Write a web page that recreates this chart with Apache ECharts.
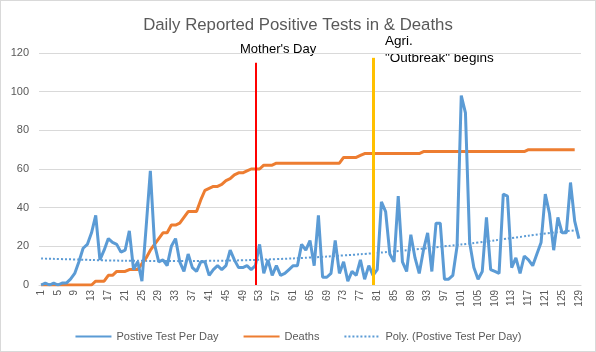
<!DOCTYPE html>
<html>
<head>
<meta charset="utf-8">
<script src="https://cdn.jsdelivr.net/npm/echarts@6/dist/echarts.min.js"></script>
<style>
  html, body { margin: 0; padding: 0; background: #fff; }
  #chart { width: 596px; height: 352px; box-sizing: border-box; border: 1px solid #d9d9d9; }
</style>
</head>
<body>
<div id="chart"></div>
<script>
// day numbers on the category axis
const days = Array.from({ length: 129 }, (_, i) => String(i + 1));

const positives = [
  0, 1, 0, 1, 0, 1, 1, 3, 6, 12, 19, 21, 27, 36, 13, 18, 24, 22, 21, 17,
  18, 28, 8, 12, 2, 30, 59, 21, 12, 13, 10, 20, 24, 12, 7, 16, 9, 7, 12, 12,
  5, 8, 10, 8, 10, 18, 13, 9, 9, 10, 8, 10, 21, 6, 13, 5, 10, 5, 6, 8,
  10, 10, 21, 18, 23, 10, 36, 4, 4, 6, 23, 6, 12, 2, 7, 5, 13, 3, 10, 5,
  8, 43, 38, 16, 12, 46, 12, 7, 26, 14, 6, 18, 27, 7, 32, 32, 3, 3, 5, 20,
  98, 89, 22, 9, 3, 7, 35, 8, 7, 6, 47, 46, 9, 14, 6, 15, 13, 10, 16, 22,
  47, 37, 18, 35, 27, 27, 53, 33, 24
];

const deaths = [
  0, 0, 0, 0, 0, 0, 0, 0, 0, 0, 0, 0, 0, 2, 2, 2, 5, 5, 7, 7,
  7, 8, 8, 8, 11, 14, 18, 21, 24, 27, 27, 31, 31, 32, 35, 38, 38, 38, 44, 49,
  50, 51, 51, 52, 54, 55, 57, 58, 58, 59, 60, 60, 60, 62, 62, 62, 63, 63, 63, 63,
  63, 63, 63, 63, 63, 63, 63, 63, 63, 63, 63, 63, 66, 66, 66, 66, 67, 68, 68, 68,
  68, 68, 68, 68, 68, 68, 68, 68, 68, 68, 68, 69, 69, 69, 69, 69, 69, 69, 69, 69,
  69, 69, 69, 69, 69, 69, 69, 69, 69, 69, 69, 69, 69, 69, 69, 69, 70, 70, 70, 70,
  70, 70, 70, 70, 70, 70, 70, 70
];

// polynomial trendline at a few days
const trendDays = [1, 9, 17, 25, 33, 41, 49, 57, 65, 73, 81, 89, 97, 105, 113, 121, 129];
const trendValues = [13.7, 13.2, 12.7, 12.5, 12.4, 12.5, 12.8, 13.4, 14.2, 15.3, 16.6, 18.2, 20.0, 22.0, 24.3, 26.6, 28.5];

const yTicks = { min: 0, max: 120, interval: 20 };

const markers = [
  { day: "52", top: 115, color: "#ff0000", width: 2 },
  { day: "80", top: 117.5, color: "#ffc000", width: 3 }
];

const trend = days.map(() => null);
trendDays.forEach((d, i) => { trend[d - 1] = trendValues[i]; });

const font = "'Liberation Sans', Arial, sans-serif";
const grey = "#595959";

const chart = echarts.init(document.getElementById("chart"), null, { renderer: "canvas" });

chart.setOption({
  animation: false,
  title: {
    text: "Daily Reported Positive Tests in & Deaths",
    left: "center",
    top: 11,
    textStyle: { color: grey, fontFamily: font, fontSize: 16.8, fontWeight: "normal" }
  },
  legend: {
    bottom: 4,
    left: "center",
    itemWidth: 36,
    itemHeight: 10,
    itemGap: 24,
    itemStyle: { color: "transparent", borderColor: "transparent", borderWidth: 0, opacity: 0 },
    textStyle: { color: grey, fontFamily: font, fontSize: 11 },
    data: ["Postive Test Per Day", "Deaths", "Poly. (Postive Test Per Day)"]
  },
  grid: { left: 38, right: 14, top: 52, bottom: 66 },
  xAxis: {
    type: "category",
    data: days,
    boundaryGap: true,
    axisLine: { lineStyle: { color: "#d9d9d9" } },
    axisTick: { show: false },
    axisLabel: { interval: 3, rotate: 90, color: grey, fontFamily: font, fontSize: 10, margin: 5 }
  },
  yAxis: {
    type: "value",
    min: yTicks.min,
    max: yTicks.max,
    interval: yTicks.interval,
    axisLine: { show: false },
    axisTick: { show: false },
    axisLabel: { color: grey, fontFamily: font, fontSize: 11, margin: 10 },
    splitLine: { lineStyle: { color: "#d9d9d9" } }
  },
  graphic: [
    { type: "text", left: 239, top: 42, style: { text: "Mother's Day", fill: "#000", font: "13px " + font } },
    { type: "text", left: 384, top: 33, style: { text: "Agri.", fill: "#000", font: "13.5px " + font } },
    { type: "text", left: 384, top: 50, style: { text: "\"Outbreak\" begins", fill: "#000", font: "13.5px " + font } }
  ],
  series: [
    {
      name: "Postive Test Per Day",
      type: "line",
      data: positives,
      symbol: "none",
      z: 3,
      lineStyle: { color: "#5b9bd5", width: 3 },
      itemStyle: { color: "#5b9bd5" },
      markLine: {
        silent: true,
        symbol: "none",
        z: 10,
        label: { show: false },
        data: markers.map((m) => [
          { coord: [m.day, m.top], lineStyle: { color: m.color, width: m.width, type: "solid" } },
          { coord: [m.day, 0] }
        ])
      }
    },
    {
      name: "Deaths",
      type: "line",
      data: deaths,
      symbol: "none",
      z: 2,
      lineStyle: { color: "#ed7d31", width: 3 },
      itemStyle: { color: "#ed7d31" }
    },
    {
      name: "Poly. (Postive Test Per Day)",
      type: "line",
      data: trend,
      connectNulls: true,
      smooth: true,
      symbol: "none",
      z: 1,
      lineStyle: { color: "#5b9bd5", width: 2, type: [2, 2] },
      itemStyle: { color: "#5b9bd5" }
    }
  ]
});
</script>
</body>
</html>
